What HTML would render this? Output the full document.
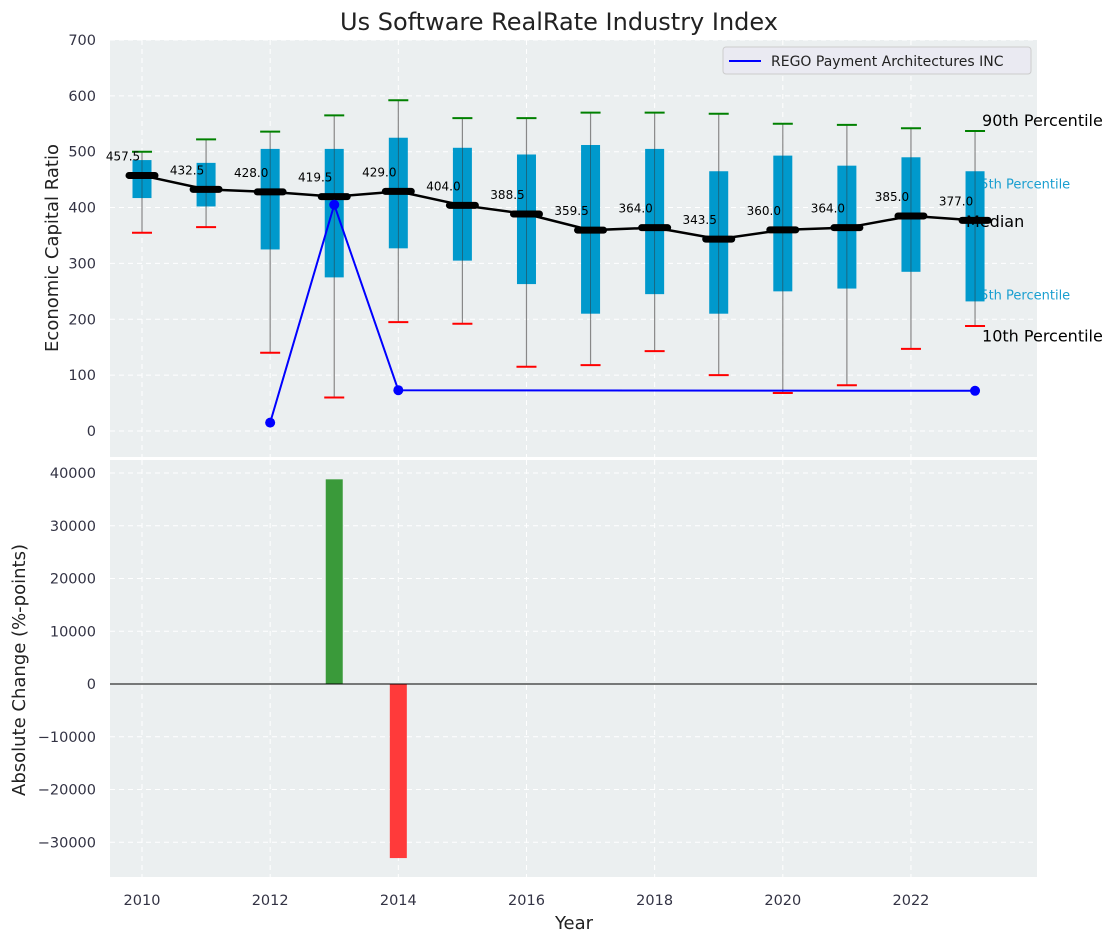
<!DOCTYPE html>
<html><head><meta charset="utf-8"><style>
body{margin:0;background:#fff;}
svg{font-family:"DejaVu Sans","Liberation Sans",sans-serif;}
</style></head><body>
<svg id="chart" width="1117" height="942" xmlns="http://www.w3.org/2000/svg">
<rect x="110" y="40" width="927" height="417" fill="#ebeff0"/>
<rect x="110" y="460" width="927" height="417" fill="#ebeff0"/>
<g id="grid"></g><g id="marks"></g>
<text x="559" y="30" font-size="24" text-anchor="middle" fill="#222">Us Software RealRate Industry Index</text>
<text transform="translate(58,248) rotate(-90)" font-size="18" text-anchor="middle" fill="#222">Economic Capital Ratio</text>
<text transform="translate(25,670) rotate(-90)" font-size="18" text-anchor="middle" fill="#222">Absolute Change (%-points)</text>
<text x="574" y="929" font-size="18" text-anchor="middle" fill="#222">Year</text>
<g>
<rect x="723" y="47" width="308" height="27" rx="3" fill="#eaeaf2" stroke="#ccc"/>
<line x1="729" y1="61" x2="761" y2="61" stroke="#0000ff" stroke-width="2"/>
<text x="771" y="66" font-size="14" fill="#222">REGO Payment Architectures INC</text>
</g>
</svg>
<script>
const years=[2010,2011,2012,2013,2014,2015,2016,2017,2018,2019,2020,2021,2022,2023];
const p90=[500,522,536,565,592,560,560,570,570,568,550,548,542,537];
const p75=[485,480,505,505,525,507,495,512,505,465,493,475,490,465];
const median=[457.5,432.5,428.0,419.5,429.0,404.0,388.5,359.5,364.0,343.5,360.0,364.0,385.0,377.0];
const p25=[417,402,325,275,327,305,263,210,245,210,250,255,285,232];
const p10=[355,365,140,60,195,192,115,118,143,100,68,82,147,188];
const regoYears=[2012,2013,2014,2023];
const regoValues=[15,405,73,72];
const changeYears=[2013,2014];
const changeValues=[38800,-33000];
const topTicks=[0,100,200,300,400,500,600,700];
const bottomTicks=[-30000,-20000,-10000,0,10000,20000,30000,40000];
const xTicks=[2010,2012,2014,2016,2018,2020,2022];

const NS="http://www.w3.org/2000/svg";
const X=y=>142+(y-2010)*64.08;
const Y1=v=>431-v*0.5586;
const Y2=v=>684-v*0.005275;
const grid=document.getElementById('grid'),marks=document.getElementById('marks');
function mk(t,a,p){const e=document.createElementNS(NS,t);for(const k in a)e.setAttribute(k,a[k]);(p||marks).appendChild(e);return e;}
topTicks.forEach(v=>{
 const l=mk('line',{x1:110,x2:1037,y1:Y1(v),y2:Y1(v),stroke:'#fff','stroke-dasharray':'5,4','stroke-width':1},grid);
 
 const t=mk('text',{x:96,y:Y1(v)+5,'font-size':14.5,'text-anchor':'end',fill:'#334'},grid);t.textContent=v;
 
});
bottomTicks.forEach(v=>{
 const l=mk('line',{x1:110,x2:1037,y1:Y2(v),y2:Y2(v),stroke:'#fff','stroke-dasharray':'5,4','stroke-width':1},grid);
 
 const t=mk('text',{x:96,y:Y2(v)+5,'font-size':14.5,'text-anchor':'end',fill:'#334'},grid);t.textContent=(v<0?'\u2212'+(-v):v);
 
});
xTicks.forEach(v=>{
 [[40,457],[460,877]].forEach(r=>{const l=mk('line',{x1:X(v),x2:X(v),y1:r[0],y2:r[1],stroke:'#fff','stroke-dasharray':'5,4'},grid);
 });
 const t=mk('text',{x:X(v),y:905,'font-size':14.5,'text-anchor':'middle',fill:'#334'},grid);t.textContent=v;
 
});
const xl=X(2023);
[['75th Percentile',p75[13]-22],['25th Percentile',p25[13]+12]].forEach(a=>{
 const t=mk('text',{x:xl-3,y:Y1(a[1])+5,'font-size':13,fill:'#1a9fd0'});t.textContent=a[0];
 
});
years.forEach((y,i)=>{
 const x=X(y);
 const w=mk('line',{x1:x,x2:x,y1:Y1(p90[i]),y2:Y1(p10[i]),stroke:'#888','stroke-width':1.2});
 
 const b=mk('rect',{x:x-9.5,y:Y1(p75[i]),width:19,height:Y1(p25[i])-Y1(p75[i]),fill:'#0099cc'});
 
 const w2=mk('line',{x1:x,x2:x,y1:Y1(p75[i]),y2:Y1(p25[i]),stroke:'#333','stroke-width':0.8,opacity:0.6});
 
 const c1=mk('line',{x1:x-10,x2:x+10,y1:Y1(p90[i]),y2:Y1(p90[i]),stroke:'#008000','stroke-width':2});
 
 const c2=mk('line',{x1:x-10,x2:x+10,y1:Y1(p10[i]),y2:Y1(p10[i]),stroke:'#ff0000','stroke-width':2});
 
});
const ml=mk('polyline',{points:years.map((y,i)=>X(y)+','+Y1(median[i])).join(' '),fill:'none',stroke:'#000','stroke-width':2.5});

years.forEach((y,i)=>{
 const m=mk('line',{x1:X(y)-13,x2:X(y)+13,y1:Y1(median[i]),y2:Y1(median[i]),stroke:'#000','stroke-width':7,'stroke-linecap':'round'});
 
 const t=mk('text',{x:X(y)-19,y:Y1(median[i])-15,'font-size':12,'text-anchor':'middle',fill:'#000'});t.textContent=median[i].toFixed(1);
 
});
const rl=mk('polyline',{points:regoYears.map((y,i)=>X(y)+','+Y1(regoValues[i])).join(' '),fill:'none',stroke:'#0000ff','stroke-width':2});

regoYears.forEach((y,i)=>{const c=mk('circle',{cx:X(y),cy:Y1(regoValues[i]),r:5,fill:'#0000ff'});
 });
[['90th Percentile',p90[13]+20,7],['Median',median[13]-1,-9],['10th Percentile',p10[13]-17,7]].forEach(a=>{
 const t=mk('text',{x:xl+a[2],y:Y1(a[1])+6,'font-size':16,fill:'#000'});t.textContent=a[0];
 
});
changeYears.forEach((y,i)=>{
 const v=changeValues[i];
 const r=mk('rect',{x:X(y)-8.5,y:Math.min(Y2(v),Y2(0)),width:17,height:Math.abs(Y2(v)-Y2(0)),fill:v>=0?'#3a9a3a':'#ff3a3a'});
 
});
const z=mk('line',{x1:110,x2:1037,y1:Y2(0),y2:Y2(0),stroke:'#000','stroke-width':1});

</script>
</body></html>
